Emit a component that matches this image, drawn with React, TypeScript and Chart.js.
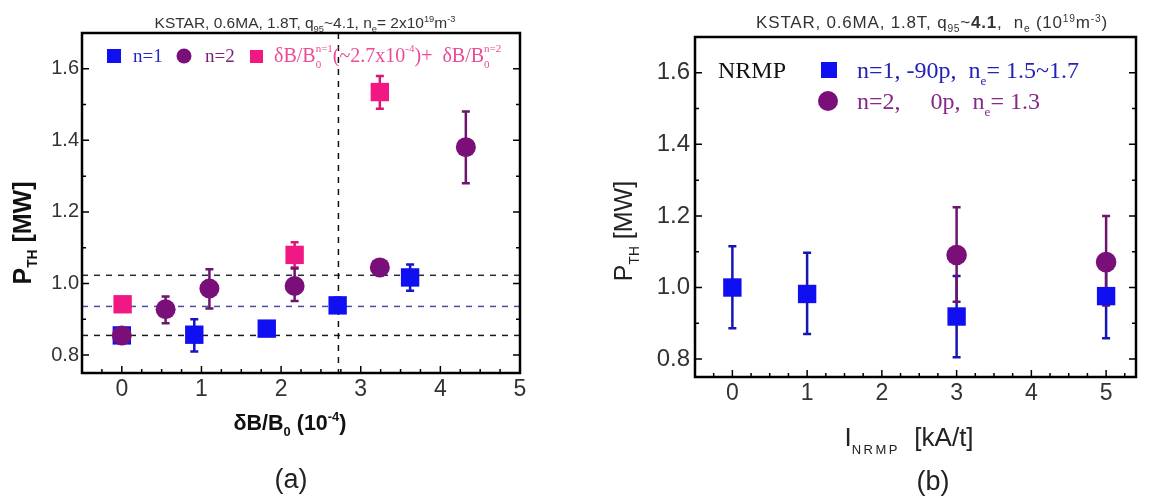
import React, { useEffect, useRef } from 'react';
import { Chart, registerables } from 'chart.js';
Chart.register(...registerables);

// ---------- Panel (a) data ----------
const aN1X = [0, 0.91, 1.82, 2.71, 3.62];
const aN1Y = [0.855, 0.857, 0.874, 0.939, 1.017];
const aN1Lo = [0.84, 0.81, 0.86, 0.92, 0.98];
const aN1Hi = [0.87, 0.9, 0.89, 0.96, 1.053];

const aN2X = [0, 0.55, 1.1, 2.17, 3.24, 4.32];
const aN2Y = [0.855, 0.928, 0.986, 0.993, 1.045, 1.381];
const aN2Lo = [0.84, 0.889, 0.93, 0.951, 1.035, 1.28];
const aN2Hi = [0.87, 0.964, 1.04, 1.042, 1.055, 1.481];

const aMixX = [0.01, 2.17, 3.24];
const aMixY = [0.942, 1.08, 1.535];
const aMixLo = [0.925, 1.045, 1.488];
const aMixHi = [0.96, 1.115, 1.58];

const aRefLinesY = [1.023, 0.936, 0.855];
const aRefLineX = 2.72;

// ---------- Panel (b) data ----------
const bN1X = [0, 1, 3, 5];
const bN1Y = [1.0, 0.982, 0.919, 0.976];
const bN1Lo = [0.886, 0.87, 0.805, 0.858];
const bN1Hi = [1.115, 1.097, 1.032, 1.09];

const bN2X = [3, 5];
const bN2Y = [1.091, 1.071];
const bN2Lo = [0.96, 0.95];
const bN2Hi = [1.224, 1.2];

// ---------- ticks ----------
const yTickValues = [0.8, 1.0, 1.2, 1.4, 1.6];
const xTickValues = [0, 1, 2, 3, 4, 5];

const SANS = '"Liberation Sans", Arial, sans-serif';
const SERIF = '"Liberation Serif", "Times New Roman", serif';
const BLUE = '#0f0ff2';
const PURPLE = '#7a0f7a';
const PINK = '#f21883';
const TICK_COLOR = '#333';

type Seg = { t: string; s?: number; dy?: number; b?: boolean; c?: string; f?: string; stack?: boolean; ls?: number };
type Base = { size: number; family: string; color: string; bold?: boolean; ls?: number };

function drawRich(ctx: CanvasRenderingContext2D, segs: Seg[], x: number, y: number, align: 'left' | 'center' | 'right', base: Base) {
  let pos = 0;
  let prevStart = 0;
  let prevW = 0;
  const items: { sg: Seg; font: string; start: number; ls: number }[] = [];
  for (const sg of segs) {
    const size = (sg.s ?? 1) * base.size;
    const bold = sg.b ?? base.bold;
    const font = `${bold ? 'bold ' : ''}${size}px ${sg.f ?? base.family}`;
    const ls = sg.ls ?? base.ls ?? 0;
    ctx.font = font;
    (ctx as any).letterSpacing = `${ls}px`;
    const w = ctx.measureText(sg.t).width;
    let start: number;
    if (sg.stack) {
      start = prevStart;
      pos = Math.max(prevStart + prevW, start + w);
    } else {
      start = pos;
      pos += w;
    }
    items.push({ sg, font, start, ls });
    prevStart = start;
    prevW = w;
  }
  const x0 = align === 'center' ? x - pos / 2 : align === 'right' ? x - pos : x;
  ctx.textAlign = 'left';
  ctx.textBaseline = 'alphabetic';
  for (const it of items) {
    ctx.font = it.font;
    (ctx as any).letterSpacing = `${it.ls}px`;
    ctx.fillStyle = it.sg.c ?? base.color;
    ctx.fillText(it.sg.t, x0 + it.start, y + (it.sg.dy ?? 0));
  }
  (ctx as any).letterSpacing = '0px';
}

type SeriesSpec = {
  label: string; x: number[]; y: number[]; lo: number[]; hi: number[];
  shape: 'rect' | 'circle'; radius: number; color: string; errColor: string; order: number;
};

type PanelSpec = {
  id: string;
  xMin: number; xMax: number; yMin: number; yMax: number;
  area: { left: number; right: number; top: number; bottom: number };
  yAxisWidth: number;
  yTickFont: number; xTickFont: number; yTickPad: number;
  series: SeriesSpec[];
  beforeDraw?: (chart: any) => void;
  afterDraw: (chart: any) => void;
};

const W = 1149;
const H = 500;
const X_AXIS_H = 40;

function drawErrorBars(chart: any) {
  const ctx = chart.ctx as CanvasRenderingContext2D;
  const xs = chart.scales.x;
  const ys = chart.scales.y;
  chart.data.datasets.forEach((ds: any) => {
    ctx.save();
    ctx.strokeStyle = ds.errColor;
    ctx.lineWidth = 2.5;
    ds.data.forEach((pt: any, i: number) => {
      const px = xs.getPixelForValue(pt.x);
      const pLo = ys.getPixelForValue(ds.errLo[i]);
      const pHi = ys.getPixelForValue(ds.errHi[i]);
      ctx.beginPath();
      ctx.moveTo(px, pLo);
      ctx.lineTo(px, pHi);
      ctx.moveTo(px - 4, pLo);
      ctx.lineTo(px + 4, pLo);
      ctx.moveTo(px - 4, pHi);
      ctx.lineTo(px + 4, pHi);
      ctx.stroke();
    });
    ctx.restore();
  });
}

function drawFrame(chart: any, spec: PanelSpec) {
  const ctx = chart.ctx as CanvasRenderingContext2D;
  const a = chart.chartArea;
  const xs = chart.scales.x;
  const ys = chart.scales.y;
  ctx.save();
  ctx.strokeStyle = '#000';
  ctx.lineWidth = 1.5;
  for (let k = 0; k <= 20; k++) {
    const v = Math.round((spec.yMin + 0.05 + k * 0.1) * 100) / 100;
    if (v >= spec.yMax - 0.001) break;
    const isMajor = yTickValues.some((t) => Math.abs(t - v) < 1e-6);
    const len = isMajor ? 7 : 4;
    const py = ys.getPixelForValue(v);
    ctx.beginPath();
    ctx.moveTo(a.left, py);
    ctx.lineTo(a.left + len, py);
    ctx.moveTo(a.right, py);
    ctx.lineTo(a.right - len, py);
    ctx.stroke();
  }
  for (let k = 0; k <= 40; k++) {
    const v = -0.25 + k * 0.25;
    if (v >= spec.xMax) break;
    const isMajor = Math.abs(v - Math.round(v)) < 1e-6;
    const len = isMajor ? 7 : 4;
    const px = xs.getPixelForValue(v);
    ctx.beginPath();
    ctx.moveTo(px, a.bottom);
    ctx.lineTo(px, a.bottom - len);
    ctx.stroke();
  }
  ctx.lineWidth = 2.5;
  ctx.strokeRect(a.left, a.top, a.right - a.left, a.bottom - a.top);
  ctx.restore();
}

function buildConfig(spec: PanelSpec) {
  const plugin = {
    id: spec.id,
    beforeDatasetsDraw(chart: any) {
      if (spec.beforeDraw) spec.beforeDraw(chart);
      drawErrorBars(chart);
    },
    afterDraw(chart: any) {
      drawFrame(chart, spec);
      spec.afterDraw(chart);
    },
  };
  return {
    type: 'scatter' as const,
    data: {
      datasets: spec.series.map((s) => ({
        label: s.label,
        data: s.x.map((x, i) => ({ x, y: s.y[i] })),
        pointStyle: s.shape,
        pointRadius: s.radius,
        pointHoverRadius: s.radius,
        backgroundColor: s.color,
        borderColor: s.color,
        pointBorderWidth: 0,
        order: s.order,
        errLo: s.lo,
        errHi: s.hi,
        errColor: s.errColor,
      })),
    },
    options: {
      responsive: false,
      animation: false,
      events: [],
      layout: {
        padding: {
          left: spec.area.left - spec.yAxisWidth,
          right: W - spec.area.right,
          top: spec.area.top,
          bottom: H - spec.area.bottom - X_AXIS_H,
        },
      },
      plugins: { legend: { display: false }, tooltip: { enabled: false }, title: { display: false } },
      scales: {
        x: {
          type: 'linear',
          min: spec.xMin,
          max: spec.xMax,
          afterBuildTicks: (sc: any) => { sc.ticks = xTickValues.map((v) => ({ value: v })); },
          afterFit: (sc: any) => { sc.height = X_AXIS_H; },
          grid: { display: false, drawTicks: false },
          border: { display: false },
          ticks: { font: { family: SANS, size: spec.xTickFont }, color: TICK_COLOR, padding: 3, maxRotation: 0, callback: (v: any) => String(v) },
        },
        y: {
          type: 'linear',
          min: spec.yMin,
          max: spec.yMax,
          afterBuildTicks: (sc: any) => { sc.ticks = yTickValues.map((v) => ({ value: v })); },
          afterFit: (sc: any) => { sc.width = spec.yAxisWidth; },
          grid: { display: false, drawTicks: false },
          border: { display: false },
          ticks: { font: { family: SANS, size: spec.yTickFont }, color: TICK_COLOR, padding: spec.yTickPad, callback: (v: any) => Number(v).toFixed(1) },
        },
      },
    },
    plugins: [plugin],
  };
}

const panelA: PanelSpec = {
  id: 'panelA',
  xMin: -0.5, xMax: 5, yMin: 0.75, yMax: 1.7,
  area: { left: 82, right: 520, top: 33, bottom: 373 },
  yAxisWidth: 80,
  yTickFont: 20, xTickFont: 23, yTickPad: 3,
  series: [
    { label: 'n=1', x: aN1X, y: aN1Y, lo: aN1Lo, hi: aN1Hi, shape: 'rect', radius: 13, color: BLUE, errColor: '#1414c8', order: 2 },
    { label: 'mix', x: aMixX, y: aMixY, lo: aMixLo, hi: aMixHi, shape: 'rect', radius: 13, color: PINK, errColor: '#d8186e', order: 1 },
    { label: 'n=2', x: aN2X, y: aN2Y, lo: aN2Lo, hi: aN2Hi, shape: 'circle', radius: 10, color: PURPLE, errColor: '#6b166b', order: 0 },
  ],
  beforeDraw(chart: any) {
    const ctx = chart.ctx as CanvasRenderingContext2D;
    const a = chart.chartArea;
    const xs = chart.scales.x;
    const ys = chart.scales.y;
    const colors = ['#2a2a3a', '#4a4aa8', '#1a1a1a'];
    ctx.save();
    ctx.lineWidth = 1.5;
    ctx.setLineDash([6, 6]);
    aRefLinesY.forEach((v, i) => {
      const py = ys.getPixelForValue(v);
      ctx.strokeStyle = colors[i];
      ctx.beginPath();
      ctx.moveTo(a.left, py);
      ctx.lineTo(a.right, py);
      ctx.stroke();
    });
    ctx.strokeStyle = '#111';
    const px = xs.getPixelForValue(aRefLineX);
    ctx.beginPath();
    ctx.moveTo(px, a.top);
    ctx.lineTo(px, a.bottom);
    ctx.stroke();
    ctx.restore();
  },
  afterDraw(chart: any) {
    const ctx = chart.ctx as CanvasRenderingContext2D;
    ctx.save();
    drawRich(ctx, [
      { t: 'KSTAR, 0.6MA, 1.8T, q' }, { t: '95', s: 0.6, dy: 4 }, { t: '~4.1, n' }, { t: 'e', s: 0.6, dy: 4 },
      { t: '= 2x10' }, { t: '19', s: 0.6, dy: -6 }, { t: 'm' }, { t: '-3', s: 0.6, dy: -6 },
    ], 305, 28, 'center', { size: 15.5, family: SANS, color: '#333' });
    ctx.fillStyle = BLUE;
    ctx.fillRect(107, 49, 14, 14);
    drawRich(ctx, [{ t: 'n=1' }], 133, 62, 'left', { size: 19, family: SERIF, color: '#2424c0' });
    ctx.fillStyle = PURPLE;
    ctx.beginPath();
    ctx.arc(184, 56, 7.5, 0, Math.PI * 2);
    ctx.fill();
    drawRich(ctx, [{ t: 'n=2' }], 205, 62, 'left', { size: 19, family: SERIF, color: '#7a1e7a' });
    ctx.fillStyle = PINK;
    ctx.fillRect(250, 50, 13, 13);
    drawRich(ctx, [
      { t: 'δB/B' }, { t: '0', s: 0.55, dy: 6 }, { t: 'n=1', s: 0.55, dy: -10, stack: true },
      { t: '(~2.7x10' }, { t: '-4', s: 0.55, dy: -10 }, { t: ')+  δB/B' }, { t: '0', s: 0.55, dy: 6 }, { t: 'n=2', s: 0.55, dy: -10, stack: true },
    ], 274, 62, 'left', { size: 20, family: SERIF, color: '#ec4b96' });
    ctx.save();
    ctx.translate(31, 233);
    ctx.rotate(-Math.PI / 2);
    drawRich(ctx, [{ t: 'P' }, { t: 'TH', s: 0.55, dy: 6 }, { t: ' [MW]' }], 0, 0, 'center', { size: 25, family: SANS, color: '#111', bold: true });
    ctx.restore();
    drawRich(ctx, [{ t: 'δB/B' }, { t: '0', s: 0.6, dy: 6 }, { t: ' (10' }, { t: '-4', s: 0.6, dy: -9 }, { t: ')' }], 290, 430, 'center', { size: 21.5, family: SANS, color: '#111', bold: true });
    drawRich(ctx, [{ t: '(a)' }], 291, 488, 'center', { size: 27, family: SANS, color: '#222' });
    ctx.restore();
  },
};

const panelB: PanelSpec = {
  id: 'panelB',
  xMin: -0.5, xMax: 5.4, yMin: 0.75, yMax: 1.7,
  area: { left: 695, right: 1141, top: 37, bottom: 377 },
  yAxisWidth: 100,
  yTickFont: 24, xTickFont: 23, yTickPad: 5,
  series: [
    { label: 'n=1', x: bN1X, y: bN1Y, lo: bN1Lo, hi: bN1Hi, shape: 'rect', radius: 13, color: BLUE, errColor: '#1616b4', order: 0 },
    { label: 'n=2', x: bN2X, y: bN2Y, lo: bN2Lo, hi: bN2Hi, shape: 'circle', radius: 10.3, color: PURPLE, errColor: '#6b166b', order: 1 },
  ],
  afterDraw(chart: any) {
    const ctx = chart.ctx as CanvasRenderingContext2D;
    ctx.save();
    drawRich(ctx, [
      { t: 'KSTAR, 0.6MA, 1.8T, q' }, { t: '95', s: 0.6, dy: 4 }, { t: '~' }, { t: '4.1', b: true }, { t: ',  n' }, { t: 'e', s: 0.6, dy: 4 },
      { t: ' (10' }, { t: '19', s: 0.6, dy: -6 }, { t: 'm' }, { t: '-3', s: 0.6, dy: -6 }, { t: ')' },
    ], 932, 28, 'center', { size: 17, family: SANS, color: '#333', ls: 0.8 });
    drawRich(ctx, [{ t: 'NRMP' }], 718, 78, 'left', { size: 24, family: SERIF, color: '#111' });
    ctx.fillStyle = BLUE;
    ctx.fillRect(821, 62, 16, 16);
    drawRich(ctx, [{ t: 'n=1, -90p,  n' }, { t: 'e', s: 0.55, dy: 7 }, { t: '= 1.5~1.7' }], 857, 78, 'left', { size: 24, family: SERIF, color: '#2222b8' });
    ctx.fillStyle = PURPLE;
    ctx.beginPath();
    ctx.arc(828, 101, 10, 0, Math.PI * 2);
    ctx.fill();
    drawRich(ctx, [{ t: 'n=2,     0p,  n' }, { t: 'e', s: 0.55, dy: 7 }, { t: '= 1.3' }], 857, 109, 'left', { size: 24, family: SERIF, color: '#86288a' });
    ctx.save();
    ctx.translate(632, 231);
    ctx.rotate(-Math.PI / 2);
    drawRich(ctx, [{ t: 'P' }, { t: 'TH', s: 0.55, dy: 7 }, { t: ' [MW]' }], 0, 0, 'center', { size: 25, family: SANS, color: '#222' });
    ctx.restore();
    drawRich(ctx, [{ t: 'I' }, { t: 'NRMP', s: 0.5, dy: 8, ls: 2.5 }, { t: '  [kA/t]' }], 909, 446, 'center', { size: 26, family: SANS, color: '#222' });
    drawRich(ctx, [{ t: '(b)' }], 933, 490, 'center', { size: 27, family: SANS, color: '#222' });
    ctx.restore();
  },
};

function Panel({ spec }: { spec: PanelSpec }) {
  const ref = useRef<HTMLCanvasElement | null>(null);
  useEffect(() => {
    if (!ref.current) return;
    const chart = new Chart(ref.current, buildConfig(spec) as any);
    return () => chart.destroy();
  }, [spec]);
  return (
    <canvas
      ref={ref}
      width={W}
      height={H}
      style={{ position: 'absolute', left: 0, top: 0, width: W, height: H }}
    />
  );
}

export default function App() {
  useEffect(() => {
    document.body.style.margin = '0';
    document.body.style.background = '#fff';
  }, []);
  return (
    <div style={{ position: 'relative', width: W, height: H, background: '#fff' }}>
      <Panel spec={panelA} />
      <Panel spec={panelB} />
    </div>
  );
}
